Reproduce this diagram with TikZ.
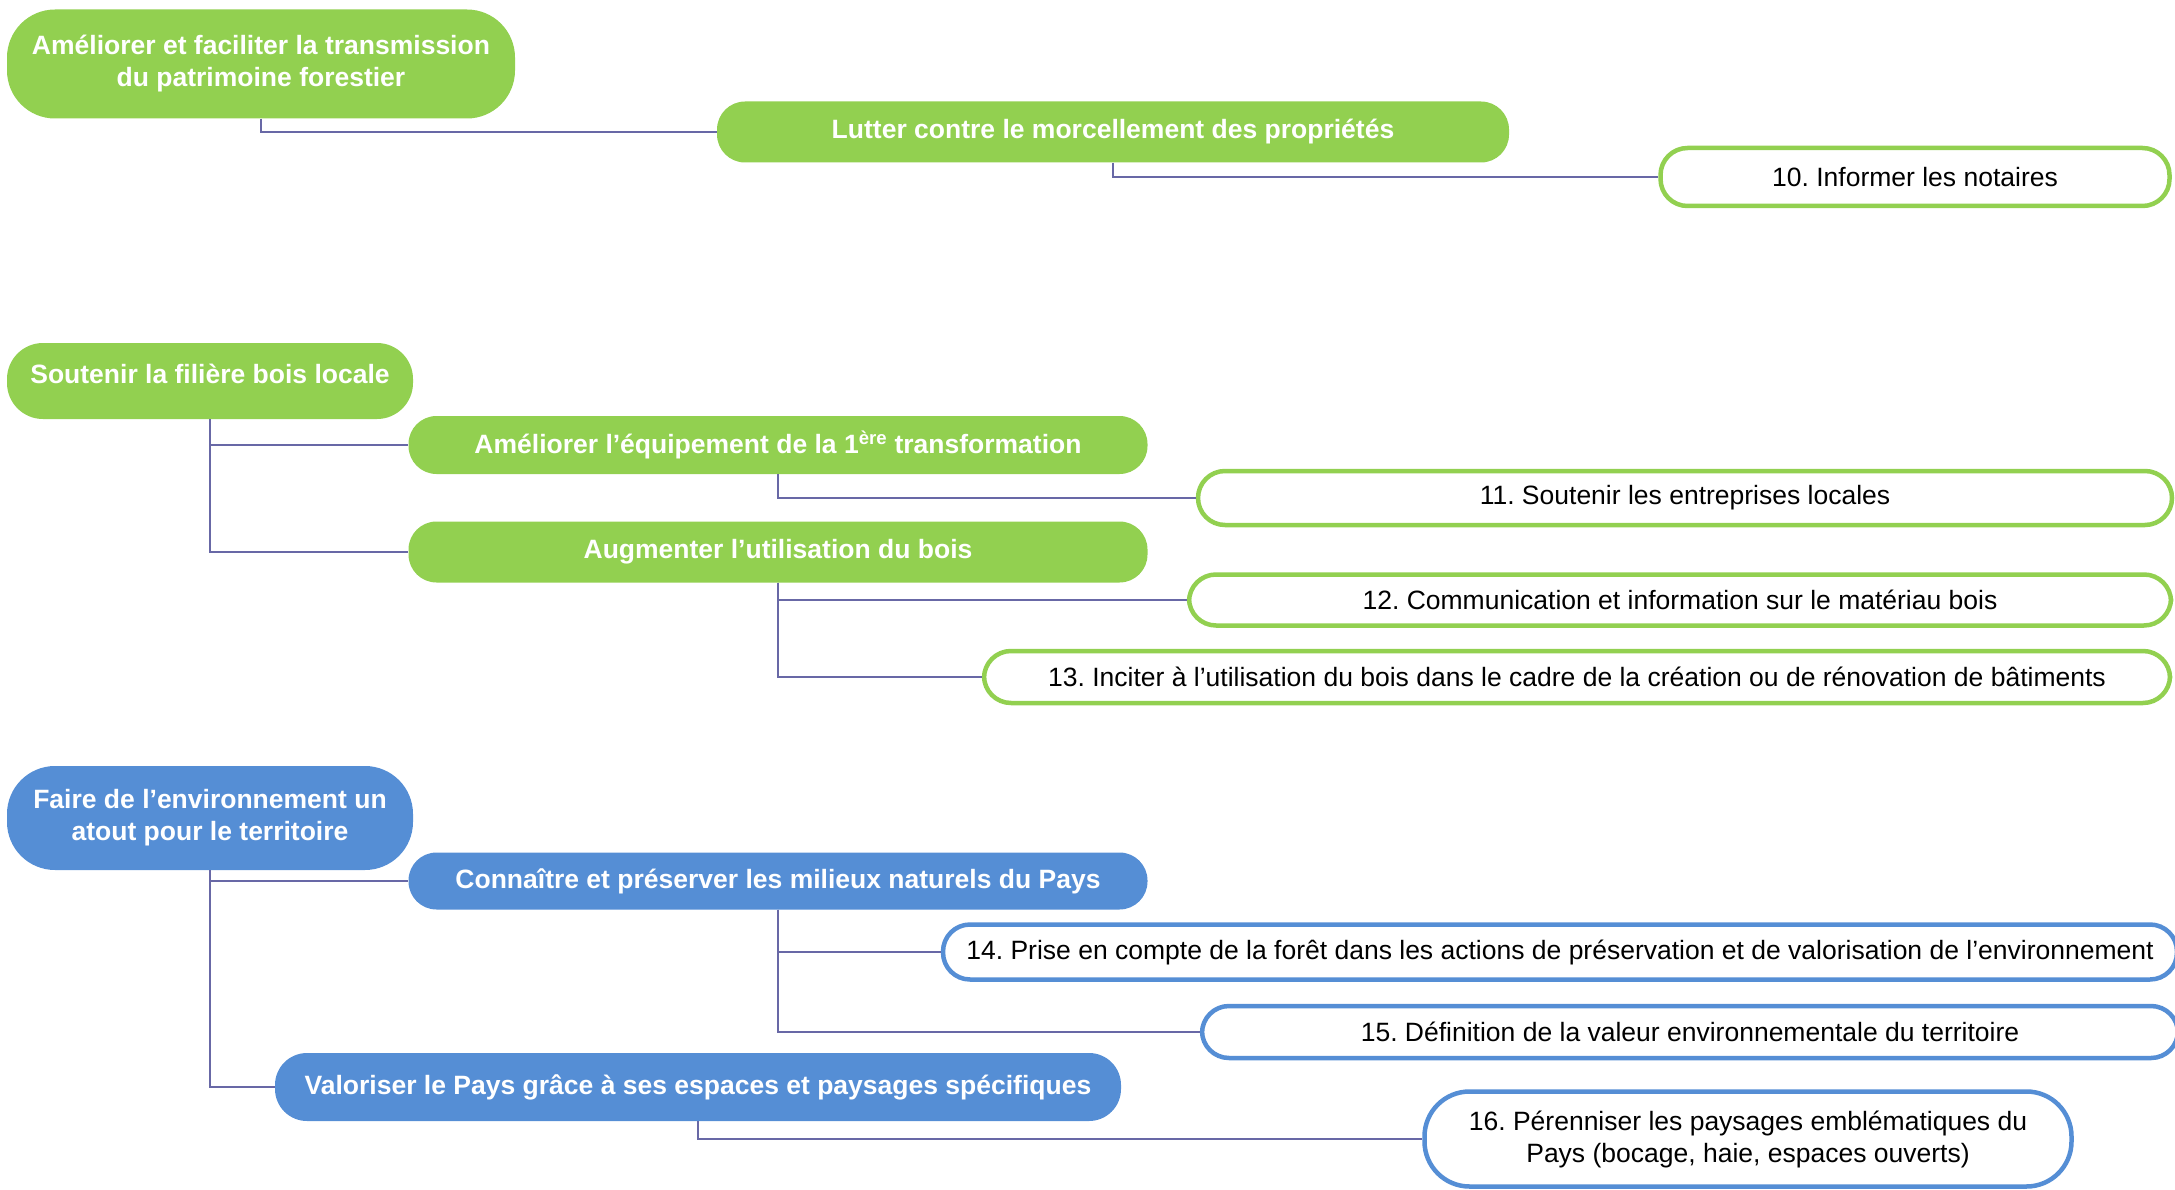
\documentclass[tikz,border=0pt]{standalone}
\usepackage{fontspec}
\setmainfont{Liberation Sans}
\frenchspacing
\definecolor{leafgreen}{RGB}{146,208,80}
\definecolor{skyblue}{RGB}{85,142,213}
\definecolor{linkgray}{RGB}{104,104,166}
\tikzset{
  goal/.style={fill=#1, text=white, font=\fontsize{26.5}{32}\selectfont\bfseries,
    align=center, inner sep=0pt, rounded corners=28pt},
  action/.style={draw=#1, fill=white, line width=4.5pt, text=black,
    font=\fontsize{26.5}{32}\selectfont, align=center, inner sep=0pt, rounded corners=27pt},
  link/.style={draw=linkgray, line width=1.8pt},
}
\begin{document}
\begin{tikzpicture}[x=1pt,y=-1pt]
  \useasboundingbox (0,0) rectangle (2175,1190);

  % premier axe
  \node[goal=leafgreen, minimum width=508, minimum height=109, rounded corners=48pt] (transmission) at (261,64)
    {Améliorer et faciliter la transmission\\du patrimoine forestier};
  \node[goal=leafgreen, minimum width=792, minimum height=61] (morcellement) at (1113,132)
    {Lutter contre le morcellement des propriétés};
  \node[action=leafgreen, minimum width=509, minimum height=58] (notaires) at (1915,177)
    {10. Informer les notaires};

  % filiere bois
  \node[goal=leafgreen, minimum width=406, minimum height=76, rounded corners=36pt, text depth=15pt] (filiere) at (210,381)
    {Soutenir la filière bois locale};
  \node[goal=leafgreen, minimum width=739, minimum height=58] (equipement) at (778,445)
    {Améliorer l’équipement de la 1\textsuperscript{ère} transformation};
  \node[goal=leafgreen, minimum width=739, minimum height=61] (utilisation) at (778,552)
    {Augmenter l’utilisation du bois};
  \node[action=leafgreen, minimum width=974, minimum height=54] (entreprises) at (1685,498)
    {11. Soutenir les entreprises locales};
  \node[action=leafgreen, minimum width=982, minimum height=51] (materiau) at (1680,600)
    {12. Communication et information sur le matériau bois};
  \node[action=leafgreen, minimum width=1186, minimum height=52] (batiments) at (1577,677)
    {13. Inciter à l’utilisation du bois dans le cadre de la création ou de rénovation de bâtiments};

  % environnement
  \node[goal=skyblue, minimum width=406, minimum height=104, rounded corners=48pt] (environnement) at (210,818)
    {Faire de l’environnement un\\atout pour le territoire};
  \node[goal=skyblue, minimum width=739, minimum height=57] (milieux) at (778,881)
    {Connaître et préserver les milieux naturels du Pays};
  \node[goal=skyblue, minimum width=846, minimum height=68, rounded corners=32pt] (paysages) at (698,1087)
    {Valoriser le Pays grâce à ses espaces et paysages spécifiques};
  \node[action=skyblue, minimum width=1234, minimum height=55] (foret) at (1560,952)
    {14. Prise en compte de la forêt dans les actions de préservation et de valorisation de l’environnement};
  \node[action=skyblue, minimum width=976, minimum height=52] (valeur) at (1690,1032)
    {15. Définition de la valeur environnementale du territoire};
  \node[action=skyblue, minimum width=647, minimum height=95, rounded corners=45pt] (emblematiques) at (1748,1139)
    {16. Pérenniser les paysages emblématiques du\\Pays (bocage, haie, espaces ouverts)};

  \foreach \a/\b in {transmission/morcellement, morcellement/notaires,
      filiere/equipement, filiere/utilisation, equipement/entreprises,
      utilisation/materiau, utilisation/batiments,
      environnement/milieux, environnement/paysages,
      milieux/foret, milieux/valeur, paysages/emblematiques}
    \draw[link] (\a.south) |- (\b.west);
\end{tikzpicture}
\end{document}
